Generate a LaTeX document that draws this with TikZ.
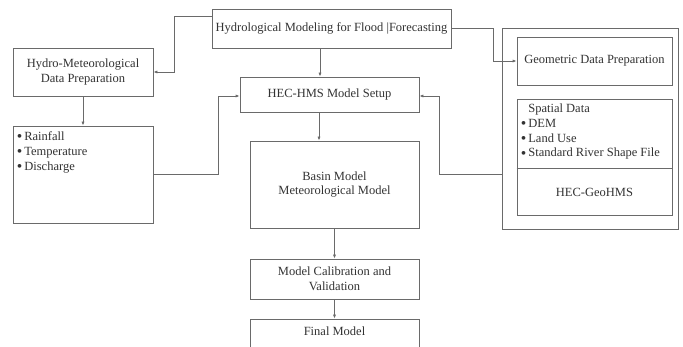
\documentclass[tikz,border=0pt]{standalone}
\usepackage{fontspec}
\setmainfont{Liberation Serif}
\usetikzlibrary{arrows.meta}
\definecolor{ln}{HTML}{6A6A6A}
\definecolor{tx}{HTML}{333333}
\tikzset{
  box/.style={draw=ln, line width=0.8pt, rectangle, inner sep=0pt, align=center, text=tx},
  lbl/.style={inner sep=0pt, align=left, text=tx, anchor=north west},
  plain/.style={inner sep=0pt, align=center, text=tx},
  conn/.style={draw=ln, line width=0.8pt},
  arr/.style={conn, -{Latex[length=4pt,width=3.2pt]}}
}
\newcommand{\bul}{\raisebox{-0.2ex}{\scalebox{1.25}{•}}\,}
\begin{document}
\begin{tikzpicture}[x=1pt,y=-1pt]
\fontsize{12.5}{14.8}\selectfont
\clip (0,0) rectangle (683,347);
\fill[white] (0,0) rectangle (683,347);
% boxes
\node[box, minimum width=239pt, minimum height=39pt] (top) at (331.5,28.5) {Hydrological Modeling for Flood |Forecasting};
\node[box, minimum width=140pt, minimum height=48pt] (hmet) at (83,72) {Hydro-Meteorological\\Data Preparation};
\node[box, minimum width=179pt, minimum height=35pt] (hms) at (329.5,94.5) {HEC-HMS Model Setup};
\node[box, minimum width=140pt, minimum height=97pt] (rain) at (83,174.5) {};
\node[lbl] (raintxt) at ([xshift=4pt,yshift=-6pt]rain.north west) {\bul Rainfall\\\bul Temperature\\\bul Discharge};
\node[box, minimum width=169pt, minimum height=87pt] (basin) at (334.5,184.5) {Basin Model\\Meteorological Model};
\node[box, minimum width=169pt, minimum height=40pt] (calib) at (334.5,279) {Model Calibration and\\Validation};
\node[box, minimum width=169pt, minimum height=46pt] (final) at (334.5,342) {};
\node[plain] (finaltxt) at (334.5,331) {Final Model};
\node[box, minimum width=176pt, minimum height=201pt] (outer) at (590,128.5) {};
\node[box, minimum width=155pt, minimum height=48pt] (geom) at (594.5,61) {Geometric Data Preparation};
\node[box, minimum width=155pt, minimum height=116pt] (spatial) at (594.5,157) {};
\node[lbl] (spattxt) at ([xshift=4pt,yshift=-5pt]spatial.north west) {\phantom{\bul}Spatial Data\\\bul DEM\\\bul Land Use\\\bul Standard River Shape File};
\coordinate (divl) at ([yshift=-11pt]spatial.west);
\coordinate (divr) at ([yshift=-11pt]spatial.east);
\draw[conn] (divl) -- (divr);
\node[plain] (geohms) at (594.5,192) {HEC-GeoHMS};
% connectors
\draw[arr] ([yshift=-8pt]top.north west) -- ++(-37,0) |- (hmet.east);
\draw[arr] ([xshift=-11.5pt]top.south) -- ([xshift=-9.5pt]hms.north);
\draw[arr] (hmet.south) -- (rain.north);
\draw[arr] (rain.east) -- ++(65,0) |- ([yshift=-1.5pt]hms.west);
\draw[arr] (top.east) -- ++(42,0) |- (geom.west);
\draw[arr] ([yshift=-45.5pt]outer.west) -- ++(-62,0) |- ([yshift=-1.5pt]hms.east);
\draw[arr] ([xshift=-10.5pt]hms.south) -- ([xshift=-15.5pt]basin.north);
\draw[arr] (basin.south) -- (calib.north);
\draw[arr] (calib.south) -- (final.north);
\end{tikzpicture}
\end{document}
